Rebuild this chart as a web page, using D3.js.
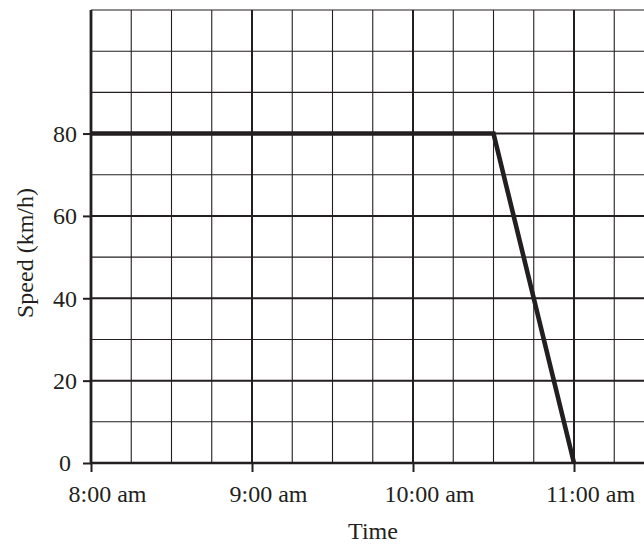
<!DOCTYPE html>
<html>
<head>
<meta charset="utf-8">
<script src="https://cdn.jsdelivr.net/npm/d3@7"></script>
<style>
  html, body { margin: 0; padding: 0; background: #fff; }
  svg { display: block; }
  text { font-family: "Liberation Serif", "Times New Roman", serif; fill: #231f20; }
</style>
</head>
<body>
<script>
// ---- data ----
const pointTimes = ["8:00", "10:30", "11:00"];
const pointSpeeds = [80, 80, 0];
const xTickTimes = ["8:00", "9:00", "10:00", "11:00"];
const xTickLabels = ["8:00 am", "9:00 am", "10:00 am", "11:00 am"];
const yTicks = [0, 20, 40, 60, 80];
const xTitle = "Time";
const yTitle = "Speed (km/h)";

// ---- setup ----
const W = 644, H = 544;
const ink = "#231f20";
const fs = 24;
const parse = d3.timeParse("%H:%M");
const svg = d3.select("body").append("svg").attr("width", W).attr("height", H);

const x = d3.scaleTime()
  .domain([parse("8:00"), parse("11:30")])
  .range([91, 654.5]);
const y = d3.scaleLinear().domain([0, 110]).range([463, 10]);

// grid lines
const vGrid = d3.timeMinute.every(15).range(parse("8:15"), d3.timeMinute.offset(parse("11:30"), 1));
const hGrid = d3.range(10, 111, 10);

const g = svg.append("g");
g.selectAll("line.v").data(vGrid).join("line")
  .attr("x1", d => x(d)).attr("x2", d => x(d))
  .attr("y1", y(110)).attr("y2", y(0))
  .attr("stroke", ink)
  .attr("stroke-width", d => d.getMinutes() === 0 ? 2 : 1.1);
g.selectAll("line.h").data(hGrid).join("line")
  .attr("x1", x.range()[0]).attr("x2", W)
  .attr("y1", d => y(d)).attr("y2", d => y(d))
  .attr("stroke", ink)
  .attr("stroke-width", d => yTicks.includes(d) ? 2 : 1.1);

// axes
const xAxis = d3.axisBottom(x)
  .tickValues(xTickTimes.map(parse))
  .tickSize(9)
  .tickSizeOuter(0)
  .tickFormat((d, i) => xTickLabels[i]);
const gx = svg.append("g").attr("transform", `translate(0,${y(0)})`).call(xAxis);
gx.select(".domain").remove();
gx.selectAll(".tick line").attr("stroke", ink).attr("stroke-width", 2);
gx.selectAll(".tick text")
  .attr("font-size", fs).attr("fill", ink)
  .attr("dy", null).attr("y", 39).attr("dx", 16);
gx.append("line").attr("x1", x.range()[0] - 1).attr("x2", W)
  .attr("y1", 0).attr("y2", 0).attr("stroke", ink).attr("stroke-width", 2.6);

const yAxis = d3.axisLeft(y).tickValues(yTicks).tickSize(8).tickSizeOuter(0);
const gy = svg.append("g").attr("transform", `translate(${x.range()[0]},0)`).call(yAxis);
gy.select(".domain").remove();
gy.selectAll(".tick line").attr("stroke", ink).attr("stroke-width", 2);
gy.selectAll(".tick text")
  .attr("font-size", fs).attr("fill", ink)
  .attr("x", d => d === 0 ? -20 : -14).attr("dy", "0.33em");
gy.append("line").attr("x1", 0).attr("x2", 0)
  .attr("y1", y(110)).attr("y2", y(0) + 1).attr("stroke", ink).attr("stroke-width", 2.8);

// data line
const pts = pointTimes.map((t, i) => [parse(t), pointSpeeds[i]]);
svg.append("path")
  .datum(pts)
  .attr("d", d3.line().x(d => x(d[0])).y(d => y(d[1])))
  .attr("fill", "none")
  .attr("stroke", ink)
  .attr("stroke-width", 4.6)
  .attr("stroke-linejoin", "miter");

// titles
svg.append("text")
  .attr("x", 373).attr("y", 539)
  .attr("text-anchor", "middle").attr("font-size", fs)
  .text(xTitle);
svg.append("text")
  .attr("transform", "translate(33,253) rotate(-90)")
  .attr("text-anchor", "middle").attr("font-size", fs)
  .text(yTitle);
</script>
</body>
</html>
